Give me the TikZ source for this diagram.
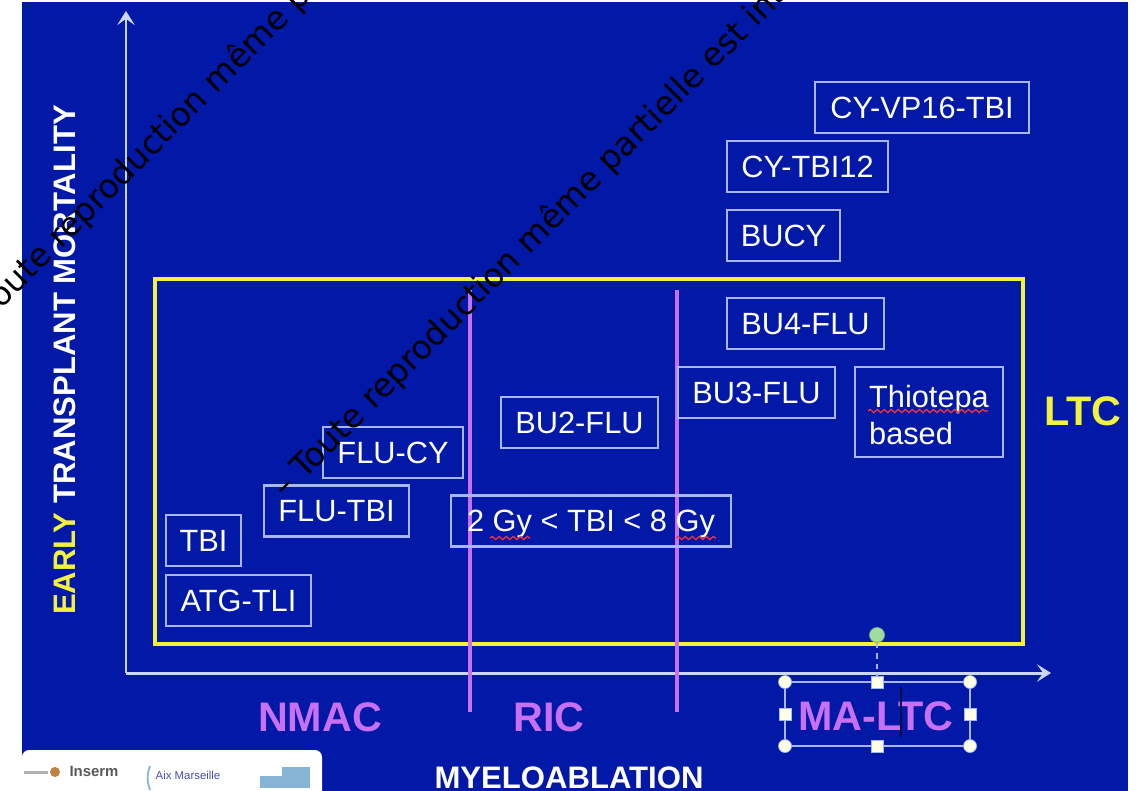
\documentclass[tikz,border=0pt]{standalone}
\usepackage{fontspec}
\setmainfont{Liberation Sans}
\newfontfamily\markfont{DejaVu Sans}
\usetikzlibrary{arrows.meta,decorations.pathmorphing}
\definecolor{slideblue}{HTML}{0119A6}
\definecolor{boxline}{HTML}{A8B6F2}
\definecolor{axisline}{HTML}{CBD6FA}
\definecolor{lilac}{HTML}{C970F2}
\definecolor{lineyellow}{HTML}{F2F23C}
\definecolor{handlegreen}{HTML}{9FDCA0}
\definecolor{logobar}{HTML}{86B4D4}

\begin{document}
\begin{tikzpicture}[
        x=0.02cm,
        y=-0.02cm,
        every node/.style={font=\fontsize{17.5}{21}\selectfont},
        regimen/.style={
            draw=boxline,
            line width=1.2pt,
            text=white,
            minimum height=1.02cm,
            text height=12.5pt,
            text depth=0pt,
            inner sep=1pt
        },
        axis/.style={
            draw=axisline,
            line width=1.7pt,
            -{Stealth[length=8pt,width=10pt,inset=3.5pt]}
        },
        divider/.style={draw=lilac, line width=2.3pt},
        zone/.style={
            text=lilac,
            font=\fontsize{23.5}{28}\selectfont\bfseries
        },
        corner/.style={
            circle,
            draw=boxline,
            fill=white!90!yellow,
            minimum size=0.26cm,
            inner sep=0pt
        },
        handle/.style={
            rectangle,
            draw=boxline,
            fill=white!90!yellow,
            minimum size=0.24cm,
            inner sep=0pt
        },
        squiggle/.style={
            draw=red!80!white,
            line width=0.7pt,
            decorate,
            decoration={snake, amplitude=0.9pt, segment length=4pt}
        },
        watermark/.style={
            rotate=45,
            anchor=west,
            text=black,
            font=\markfont\fontsize{18.7}{22}\selectfont
        }
    ]
    \useasboundingbox (0,0) rectangle (1143,791);
    \clip (0,0) rectangle (1143,791);

    % Slide
    \fill[slideblue] (22,2) rectangle (1128,791);

    % Logos
    \fill[white, rounded corners=4pt] (22,750) -- (322,750) -- (322,800) -- (22,800) -- cycle;
    \fill[gray!60] (24,771) rectangle (48,774);
    \fill[orange!50!gray] (55,772) circle (5);
    \node[text=gray!70!black, font=\fontsize{8.5}{10}\selectfont\bfseries] (inserm) at (94,771) {Inserm};
    \node[text=gray!60!blue, font=\fontsize{6.5}{8}\selectfont] (aix) at (188,775) {Aix Marseille};
    \draw[logobar, line width=1pt] (150,766) to[bend right=20] (150,790);
    \fill[logobar] (260,776) rectangle (310,788);
    \fill[logobar] (282,767) rectangle (310,776);

    % Axes
    \coordinate (origin) at (126,673);
    \coordinate (ytip) at (126,11);
    \coordinate (xtip) at (1051,673);
    \draw[axis] (origin) -- (ytip);
    \draw[axis] (origin) -- (xtip);

    % Frame
    \draw[lineyellow, line width=2.4pt] (155,279) rectangle (1023,644);

    % Dividers
    \coordinate (ric top) at (470,290);
    \coordinate (ric low) at (470,712);
    \coordinate (ma top) at (677,290);
    \coordinate (ma low) at (677,712);
    \draw[divider] (ric top) -- (ric low);
    \draw[divider] (ma top) -- (ma low);

    % Regimens
    \node[regimen, minimum width=4.28cm] (cyvp) at (922,107.5) {CY-VP16-TBI};
    \node[regimen, minimum width=3.22cm] (cytbi) at (807.5,166.5) {CY-TBI12};
    \node[regimen, minimum width=2.26cm] (bucy) at (783.5,235.5) {BUCY};
    \node[regimen, minimum width=3.14cm] (bu4) at (805.5,323.5) {BU4-FLU};
    \node[regimen, minimum width=3.14cm] (bu3) at (756.5,392.5) {BU3-FLU};
    \node[regimen, minimum width=2.96cm, minimum height=1.8cm, align=left, text height=, text depth=] (thio) at (929,412) {\rule{0pt}{16.5pt}Thiotepa\\based};
    \node[regimen, minimum width=3.14cm] (bu2) at (579.5,422.5) {BU2-FLU};
    \node[regimen, minimum width=2.8cm] (flucy) at (393,452.5) {FLU-CY};
    \node[regimen, minimum width=2.9cm] (flutbi) at (336.5,511) {FLU-TBI};
    \node[regimen, minimum width=5.6cm] (gy) at (591,521) {2 Gy < TBI < 8 Gy};
    \node[regimen, minimum width=1.5cm] (tbi) at (203.5,540.5) {TBI};
    \node[regimen, minimum width=2.9cm] (atg) at (238.5,600.5) {ATG-TLI};

    % Spelling marks
    \draw[squiggle] (490,538) -- (530,538);
    \draw[squiggle] (676,538) -- (716,538);
    \draw[squiggle] (868,411) -- (988,411);

    % Labels
    \node[zone] (nmac) at (320,717) {NMAC};
    \node[zone] (ric) at (549,717) {RIC};
    \node[zone] (maltc) at (876,716) {MA-LTC};
    \node[zone, text=lineyellow] (ltc) at (1083,411) {LTC};
    \node[text=white, font=\fontsize{17.7}{21}\selectfont\bfseries] (myelo) at (569,778) {MYELOABLATION};
    \node[rotate=90, text=white, font=\fontsize{17.7}{21}\selectfont\bfseries] (tm) at (65,360) {\textcolor{lineyellow}{EARLY} TRANSPLANT MORTALITY};

    % Selection box
    \node[corner] (h1) at (785,682) {};
    \node[handle] (h2) at (877,682) {};
    \node[corner] (h3) at (970,682) {};
    \node[handle] (h4) at (785,714) {};
    \node[handle] (h5) at (970,714) {};
    \node[corner] (h6) at (785,746) {};
    \node[handle] (h7) at (877,746) {};
    \node[corner] (h8) at (970,746) {};
    \node[circle, fill=handlegreen, draw=handlegreen!80!black, minimum size=0.3cm, inner sep=0pt] (rot) at (877,635) {};
    \draw[boxline, line width=0.8pt] (h1) -- (h2) -- (h3) -- (h5) -- (h8) -- (h7) -- (h6) -- (h4) -- (h1);
    \draw[boxline, line width=0.7pt, dashed] (rot) -- (h2);
    \coordinate (caret top) at (901,687);
    \coordinate (caret low) at (901,737);
    \draw[slideblue!40!black, line width=0.6pt] (caret top) -- (caret low);

    % Watermark
    \node[watermark] (mark a) at (-20,317) {Toute reproduction même p};
    \node[watermark] (mark b) at (274,497) {– Toute reproduction même partielle est int};

    \end{tikzpicture}
\end{document}
